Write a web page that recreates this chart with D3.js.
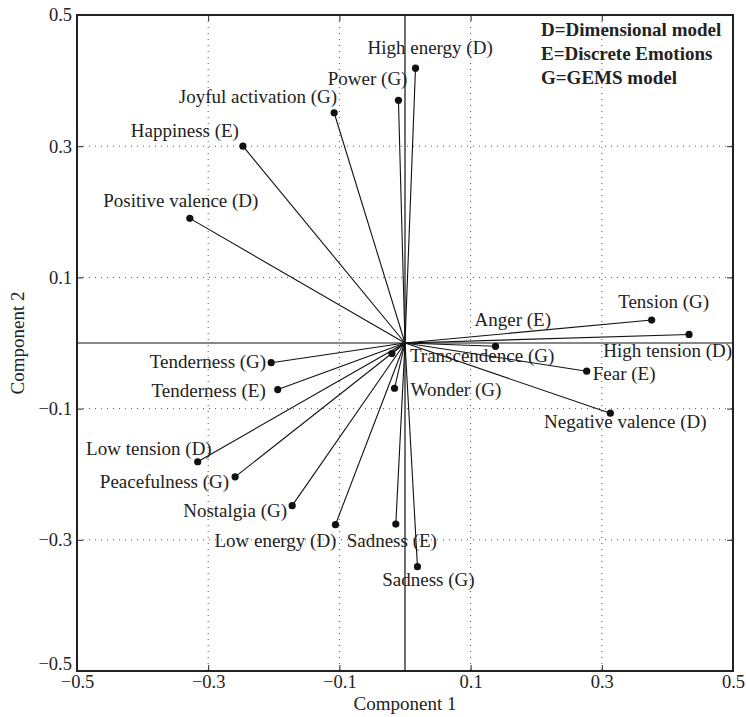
<!DOCTYPE html>
<html lang="en">
<head>
<meta charset="UTF-8">
<title>Component loadings</title>
<script src="https://d3js.org/d3.v7.min.js"></script>
<style>
  body { margin: 0; background: #fff; }
  svg text { font-family: "Liberation Serif", "Times New Roman", serif; fill: #222; }
</style>
</head>
<body>
<div id="chart"></div>
<script>
// emotion terms and their loadings on the two components
var names = ["High energy (D)", "Power (G)", "Joyful activation (G)", "Happiness (E)",
  "Positive valence (D)", "Tension (G)", "High tension (D)", "Anger (E)", "Fear (E)",
  "Negative valence (D)", "Tenderness (G)", "Tenderness (E)", "Low tension (D)",
  "Peacefulness (G)", "Nostalgia (G)", "Low energy (D)", "Sadness (E)", "Sadness (G)",
  "Transcendence (G)", "Wonder (G)"];
var comp1 = [0.016, -0.010, -0.108, -0.247, -0.328, 0.376, 0.433, 0.138, 0.277,
  0.313, -0.204, -0.194, -0.316, -0.259, -0.172, -0.106, -0.014, 0.019, -0.020, -0.016];
var comp2 = [0.419, 0.370, 0.351, 0.300, 0.190, 0.035, 0.013, -0.005, -0.043,
  -0.107, -0.030, -0.071, -0.181, -0.204, -0.248, -0.277, -0.276, -0.341, -0.016, -0.069];
var ticks = [-0.5, -0.3, -0.1, 0.1, 0.3, 0.5];
var legendLines = ["D=Dimensional model", "E=Discrete Emotions", "G=GEMS model"];

// where each label sits relative to its dot: [dx, dy, anchor]
var labelPos = [[-48, -14, "start"], [9, -15, "end"], [3, -10, "end"], [-4, -9, "end"],
  [-9, -11, "middle"], [12, -12, "middle"], [43, 23, "end"], [-21, -20, "start"],
  [6, 9, "start"], [15, 15, "middle"], [-5, 5, "end"], [-12, 7, "end"],
  [14, -7, "end"], [-6, 11, "end"], [-5, 11, "end"], [1, 22, "end"],
  [-4, 23, "middle"], [11, 19, "middle"], [18, 9, "start"], [16, 8, "start"]];

var width = 746, height = 717;
var pL = 77, pR = 733, pT = 15, pB = 671;

var x = d3.scaleLinear().domain([-0.5, 0.5]).range([pL, pR]);
var y = d3.scaleLinear().domain([-0.5, 0.5]).range([pB, pT]);

var svg = d3.select("#chart").append("svg")
  .attr("width", width).attr("height", height);

var fmt = function(d){ return d3.format(".1f")(d).replace("-", "\u2212"); };

// dotted grid
var gridVals = ticks.filter(function(d){ return Math.abs(d) < 0.5; });
svg.selectAll(".gx").data(gridVals).enter().append("line")
  .attr("x1", function(d){ return x(d); }).attr("x2", function(d){ return x(d); })
  .attr("y1", pT).attr("y2", pB)
  .attr("stroke", "#555").attr("stroke-width", 1).attr("stroke-dasharray", "1,5");
svg.selectAll(".gy").data(gridVals).enter().append("line")
  .attr("y1", function(d){ return y(d); }).attr("y2", function(d){ return y(d); })
  .attr("x1", pL).attr("x2", pR)
  .attr("stroke", "#555").attr("stroke-width", 1).attr("stroke-dasharray", "1,5");

// zero lines
svg.append("line").attr("x1", x(0)).attr("x2", x(0)).attr("y1", pT).attr("y2", pB)
  .attr("stroke", "#111").attr("stroke-width", 1.2);
svg.append("line").attr("y1", y(0)).attr("y2", y(0)).attr("x1", pL).attr("x2", pR)
  .attr("stroke", "#111").attr("stroke-width", 1.2);

// axes (inward ticks)
var axB = svg.append("g").attr("transform", "translate(0," + pB + ")")
  .call(d3.axisBottom(x).tickValues(ticks).tickSizeInner(-6).tickSizeOuter(0).tickPadding(3).tickFormat(fmt));
var axL = svg.append("g").attr("transform", "translate(" + pL + ",0)")
  .call(d3.axisLeft(y).tickValues(ticks).tickSizeInner(-6).tickSizeOuter(0).tickPadding(5).tickFormat(fmt));
var axT = svg.append("g").attr("transform", "translate(0," + pT + ")")
  .call(d3.axisTop(x).tickValues(ticks).tickSizeInner(-6).tickSizeOuter(0).tickFormat(""));
var axR = svg.append("g").attr("transform", "translate(" + pR + ",0)")
  .call(d3.axisRight(y).tickValues(ticks).tickSizeInner(-6).tickSizeOuter(0).tickFormat(""));
[axB, axL, axT, axR].forEach(function(g){
  g.select(".domain").remove();
  g.selectAll(".tick line").attr("stroke", "#222");
  g.selectAll("text").style("font-size", "18.5px").attr("fill", "#222");
});
axB.selectAll("text").attr("dy", "0.75em");
// lowest y label is nudged up so it clears the x label below it
axL.selectAll(".tick text").filter(function(d){ return d === -0.5; }).attr("dy", "-0.1em");

// frame
svg.append("rect").attr("x", pL).attr("y", pT)
  .attr("width", pR - pL).attr("height", pB - pT)
  .attr("fill", "none").attr("stroke", "#222").attr("stroke-width", 2);

// axis titles
svg.append("text").attr("x", x(0)).attr("y", 710).attr("text-anchor", "middle")
  .style("font-size", "19px").text("Component 1");
svg.append("text").attr("transform", "translate(24," + y(0) + ") rotate(-90)")
  .attr("text-anchor", "middle").style("font-size", "19px").text("Component 2");

// vectors
var idx = d3.range(names.length);
svg.selectAll(".vec").data(idx).enter().append("line")
  .attr("x1", x(0)).attr("y1", y(0))
  .attr("x2", function(i){ return x(comp1[i]); })
  .attr("y2", function(i){ return y(comp2[i]); })
  .attr("stroke", "#111").attr("stroke-width", 1.1);
svg.selectAll(".dot").data(idx).enter().append("circle")
  .attr("cx", function(i){ return x(comp1[i]); })
  .attr("cy", function(i){ return y(comp2[i]); })
  .attr("r", 3.6).attr("fill", "#111");

svg.selectAll(".lbl").data(idx).enter().append("text")
  .attr("x", function(i){ return x(comp1[i]) + labelPos[i][0]; })
  .attr("y", function(i){ return y(comp2[i]) + labelPos[i][1]; })
  .attr("text-anchor", function(i){ return labelPos[i][2]; })
  .style("font-size", "19px")
  .text(function(i){ return names[i]; });

// legend
svg.selectAll(".leg").data(legendLines).enter().append("text")
  .attr("x", 541).attr("y", function(d, i){ return 36 + i * 24; })
  .style("font-size", "19px").style("font-weight", "bold")
  .text(function(d){ return d; });
</script>
</body>
</html>
